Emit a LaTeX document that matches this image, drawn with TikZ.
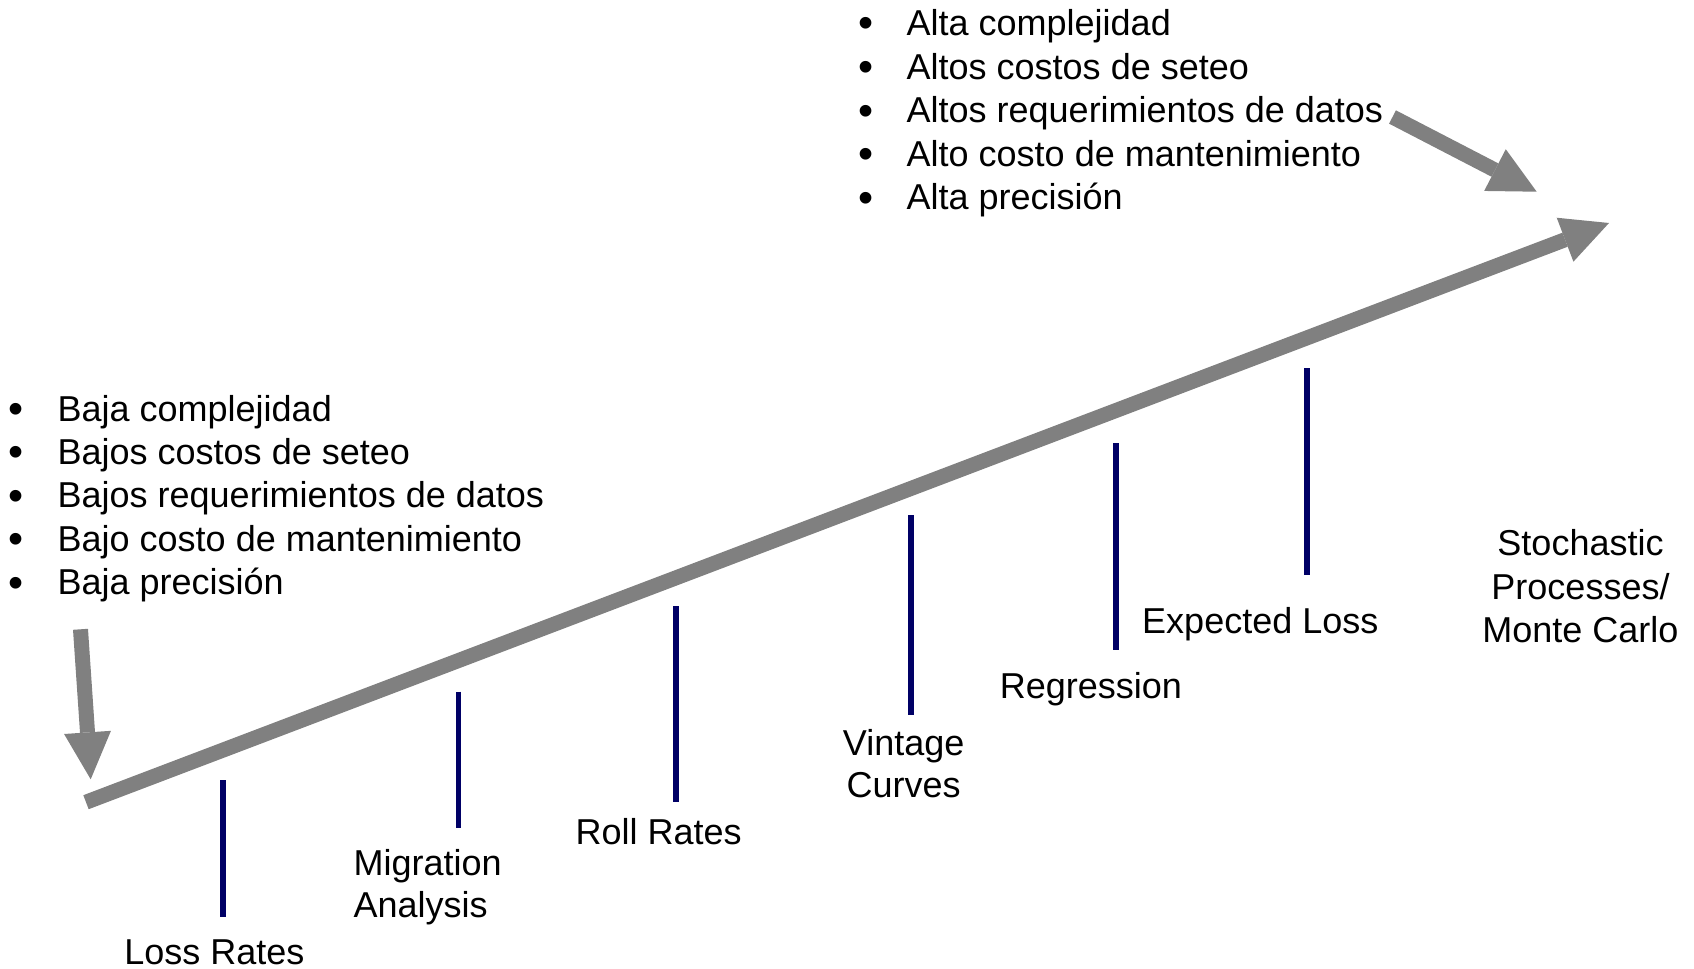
\documentclass[tikz,border=0pt]{standalone}
\usepackage{fontspec}
\setmainfont{Liberation Sans}
\usetikzlibrary{arrows.meta}
\definecolor{arrowgray}{RGB}{128,128,128}
\definecolor{tickblue}{RGB}{0,0,102}
\begin{document}
\begin{tikzpicture}[x=0.5pt,y=-0.5pt,
  txt/.style={inner sep=0pt, font=\fontsize{18}{21.5}\selectfont, text=black},
  bul/.style={inner sep=0pt, font=\fontsize{21.5}{21.5}\selectfont, text=black},
  bigarrow/.style={draw=arrowgray, fill=arrowgray, line width=7.5pt,
    -{Triangle[length=23.5pt,width=23.5pt,line width=0pt]}},
  tick/.style={draw=tickblue, line width=2.8pt}]
\useasboundingbox (0,0) rectangle (1694,969);

% bullet lists
\foreach \t [count=\i from 0] in {Baja complejidad, Bajos costos de seteo, Bajos requerimientos de datos, Bajo costo de mantenimiento, Baja precisión} {
  \node[bul, anchor=base] (lb\i) at (16,{423.5+43.4*\i}) {\textbullet};
  \node[txt, anchor=base west] (lt\i) at (57.3,{421+43.4*\i}) {\t};
}
\foreach \t [count=\i from 0] in {Alta complejidad, Altos costos de seteo, Altos requerimientos de datos, Alto costo de mantenimiento, Alta precisión} {
  \node[bul, anchor=base] (hb\i) at (866.5,{38+43.6*\i}) {\textbullet};
  \node[txt, anchor=base west] (ht\i) at (906.3,{35.5+43.6*\i}) {\t};
}

% arrows
\coordinate (mainS) at (86,802.2);
\coordinate (mainE) at (1609,223);
\coordinate (leftS) at (80.5,629.3);
\coordinate (leftE) at (90.7,779.3);
\coordinate (upS) at (1392.5,117);
\coordinate (upE) at (1536.7,191.7);
\draw[bigarrow] (mainS) -- (mainE);
\draw[bigarrow] (leftS) -- (leftE);
\draw[bigarrow] (upS) -- (upE);

% ticks
\coordinate (t1a) at (222.8,780);   \coordinate (t1b) at (222.8,916.7);
\coordinate (t2a) at (458.3,691.7); \coordinate (t2b) at (458.3,828.3);
\coordinate (t3a) at (675.7,606);   \coordinate (t3b) at (675.7,802.3);
\coordinate (t4a) at (911,515.3);   \coordinate (t4b) at (911,715);
\coordinate (t5a) at (1115.8,443.3);\coordinate (t5b) at (1115.8,650);
\coordinate (t6a) at (1307.2,368.3);\coordinate (t6b) at (1307.2,575);
\foreach \k in {1,...,6} { \draw[tick] (t\k a) -- (t\k b); }

% labels
\node[txt, anchor=base] (loss) at (214.5,964) {Loss Rates};
\node[txt, anchor=base west] (mig1) at (353.3,875) {Migration};
\node[txt, anchor=base west] (mig2) at (353.3,917.5) {Analysis};
\node[txt, anchor=base] (roll) at (658.7,844) {Roll Rates};
\node[txt, anchor=base] (vin1) at (903.7,755) {Vintage};
\node[txt, anchor=base] (vin2) at (903.7,797) {Curves};
\node[txt, anchor=base] (reg) at (1090.8,698.3) {Regression};
\node[txt, anchor=base] (exp) at (1260.3,633.3) {Expected Loss};
\node[txt, anchor=base] (sto1) at (1580.5,555.7) {Stochastic};
\node[txt, anchor=base] (sto2) at (1580.5,599) {Processes/};
\node[txt, anchor=base] (sto3) at (1580.5,642) {Monte Carlo};
\end{tikzpicture}
\end{document}
